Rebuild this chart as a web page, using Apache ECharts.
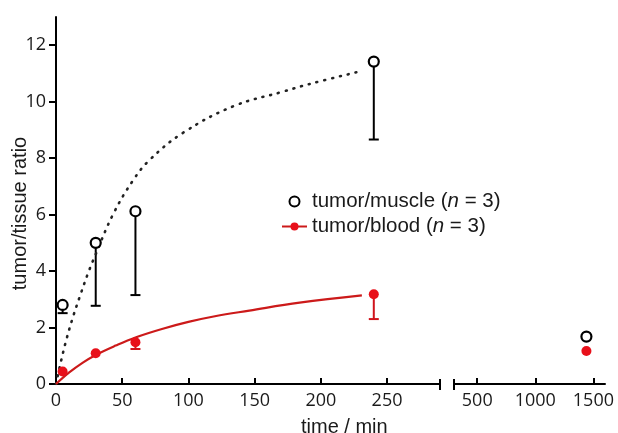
<!DOCTYPE html>
<html>
<head>
<meta charset="utf-8">
<style>
html,body{margin:0;padding:0;background:#fff;}
#chart{width:618px;height:433px;}
</style>
<script src="https://cdn.jsdelivr.net/npm/echarts@6/dist/echarts.min.js"></script>
</head>
<body>
<div id="chart"></div>
<script>
// ---- data ----
var muscleTimes = [5, 30, 60, 240];
var muscleValues = [2.8, 5.0, 6.12, 11.42];
var muscleLow = [2.51, 2.77, 3.15, 8.66];
var bloodTimes = [5, 30, 60, 240];
var bloodValues = [0.44, 1.09, 1.48, 3.18];
var bloodLow = [0.44, 1.09, 1.24, 2.30];
var lateTime = [1440];
var muscleLate = [1.68];
var bloodLate = [1.17];
// fitted curves
var muscleFitT = [0, 4, 8, 13, 18, 24, 30, 43, 58, 71, 96, 134, 171, 191, 231];
var muscleFitY = [0, 0.85, 1.6, 2.4, 3.1, 3.9, 4.6, 6.0, 7.2, 7.95, 8.9, 9.84, 10.35, 10.62, 11.09];
var bloodFitT = [0, 10, 20, 30, 45, 60, 80, 100, 120, 146, 184, 231];
var bloodFitY = [0, 0.41, 0.75, 1.03, 1.36, 1.65, 1.95, 2.2, 2.4, 2.6, 2.88, 3.14];
var yTicks = [0, 2, 4, 6, 8, 10, 12];
var xTicksLeft = [0, 50, 100, 150, 200, 250];
var xTicksRight = [500, 1000, 1500];
var breakLeft = [290];
var breakRight = [300];

function zip(a, b) { return a.map(function (v, i) { return [v, b[i]]; }); }

var labelFont = {fontFamily: 'Open Sans', fontSize: 18, color: '#1a1a1a', formatter: function (v) { return String(v); }};
var textFont = 'Liberation Sans';

function errorBars(times, vals, lows, color, gi) {
  return {
    type: 'custom', xAxisIndex: gi, yAxisIndex: gi, z: 1, silent: true,
    data: times.map(function (t, i) { return [t, vals[i], lows[i]]; }),
    renderItem: function (params, api) {
      var top = api.coord([api.value(0), api.value(1)]);
      var bot = api.coord([api.value(0), api.value(2)]);
      if (Math.abs(top[1] - bot[1]) < 1) return {type: 'group', children: []};
      return {type: 'group', children: [
        {type: 'line', shape: {x1: top[0], y1: top[1], x2: bot[0], y2: bot[1]}, style: {stroke: color, lineWidth: 2}},
        {type: 'line', shape: {x1: bot[0] - 5, y1: bot[1], x2: bot[0] + 5, y2: bot[1]}, style: {stroke: color, lineWidth: 2}}
      ]};
    }
  };
}
function breakMark(vals, gi) {
  return {
    type: 'custom', xAxisIndex: gi, yAxisIndex: gi, z: 5, silent: true, clip: false,
    data: vals.map(function (v) { return [v, 0]; }),
    renderItem: function (params, api) {
      var p = api.coord([api.value(0), api.value(1)]);
      return {type: 'line', shape: {x1: p[0], y1: p[1] - 5, x2: p[0], y2: p[1] + 6}, style: {stroke: '#000', lineWidth: 2}};
    }
  };
}

var chart = echarts.init(document.getElementById('chart'));
chart.setOption({
  animation: false,
  backgroundColor: '#fff',
  title: {
    text: 'time / min', left: 296, top: 412,
    textStyle: {fontFamily: textFont, fontSize: 20, fontWeight: 'normal', color: '#1a1a1a'}
  },
  legend: {
    orient: 'vertical', left: 281, top: 191, padding: 0,
    itemWidth: 25, itemHeight: 10, itemGap: 4,
    data: ['tumor/muscle (n = 3)', 'tumor/blood (n = 3)'],
    formatter: function (name) { return name.replace('(n', '({i|n}'); },
    textStyle: {
      fontFamily: textFont, fontSize: 20.5, lineHeight: 20, color: '#1a1a1a',
      rich: {i: {fontFamily: textFont, fontSize: 20.5, fontStyle: 'italic', color: '#1a1a1a'}}
    }
  },
  grid: [
    {left: 56, top: 17, width: 384, height: 367, containLabel: false, outerBoundsMode: 'none'},
    {left: 454, top: 17, width: 151, height: 367, containLabel: false, outerBoundsMode: 'none'}
  ],
  xAxis: [
    {
      type: 'value', gridIndex: 0, min: 0, max: 290,
      axisLine: {lineStyle: {color: '#000', width: 2}},
      axisTick: {inside: true, length: 6, lineStyle: {color: '#000', width: 2}, customValues: xTicksLeft},
      axisLabel: Object.assign({margin: 8, customValues: xTicksLeft}, labelFont),
      splitLine: {show: false}
    },
    {
      type: 'value', gridIndex: 1, min: 300, max: 1600,
      axisLine: {lineStyle: {color: '#000', width: 2}},
      axisTick: {inside: true, length: 6, lineStyle: {color: '#000', width: 2}, customValues: xTicksRight},
      axisLabel: Object.assign({margin: 8, customValues: xTicksRight}, labelFont),
      splitLine: {show: false}
    }
  ],
  yAxis: [
    {
      type: 'value', gridIndex: 0, min: 0, max: 13,
      name: 'tumor/tissue ratio', nameLocation: 'middle', nameGap: 26, nameMoveOverlap: false,
      nameTextStyle: {fontFamily: textFont, fontSize: 20, color: '#1a1a1a', padding: [0, 26, 0, 0]},
      axisLine: {show: true, lineStyle: {color: '#000', width: 2}},
      axisTick: {show: true, length: 7, lineStyle: {color: '#000', width: 2}, customValues: yTicks},
      axisLabel: Object.assign({margin: 10, customValues: yTicks}, labelFont),
      splitLine: {show: false}
    },
    {
      type: 'value', gridIndex: 1, min: 0, max: 13, show: false,
      splitLine: {show: false}
    }
  ],
  series: [
    {
      name: 'muscleFit', type: 'line', xAxisIndex: 0, yAxisIndex: 0, smooth: 0.4,
      symbol: 'none', z: 2, silent: true,
      data: zip(muscleFitT, muscleFitY),
      lineStyle: {color: '#222', width: 2.6, type: [1, 7], cap: 'round'}
    },
    {
      name: 'tumor/blood (n = 3)', type: 'line', xAxisIndex: 0, yAxisIndex: 0, smooth: 0.4,
      symbol: 'circle', showSymbol: false, symbolSize: 9, z: 2, silent: true,
      data: zip(bloodFitT, bloodFitY),
      itemStyle: {color: '#e8101a'},
      lineStyle: {color: '#cc1a1a', width: 2.2}
    },
    errorBars(muscleTimes, muscleValues, muscleLow, '#000', 0),
    errorBars(bloodTimes, bloodValues, bloodLow, '#d0141c', 0),
    {
      name: 'tumor/muscle (n = 3)', type: 'scatter', xAxisIndex: 0, yAxisIndex: 0, z: 4,
      symbol: 'circle', symbolSize: 10,
      itemStyle: {color: '#fff', borderColor: '#000', borderWidth: 2.2, opacity: 1},
      data: zip(muscleTimes, muscleValues)
    },
    {
      name: 'bloodPts', type: 'scatter', xAxisIndex: 0, yAxisIndex: 0, z: 4,
      symbol: 'circle', symbolSize: 10,
      itemStyle: {color: '#e8101a', opacity: 1},
      data: zip(bloodTimes, bloodValues)
    },
    {
      name: 'muscleLate', type: 'scatter', xAxisIndex: 1, yAxisIndex: 1, z: 4,
      symbol: 'circle', symbolSize: 10,
      itemStyle: {color: '#fff', borderColor: '#000', borderWidth: 2.2, opacity: 1},
      data: zip(lateTime, muscleLate)
    },
    {
      name: 'bloodLate', type: 'scatter', xAxisIndex: 1, yAxisIndex: 1, z: 4,
      symbol: 'circle', symbolSize: 10,
      itemStyle: {color: '#e8101a', opacity: 1},
      data: zip(lateTime, bloodLate)
    },
    breakMark(breakLeft, 0),
    breakMark(breakRight, 1)
  ]
});
</script>
</body>
</html>
